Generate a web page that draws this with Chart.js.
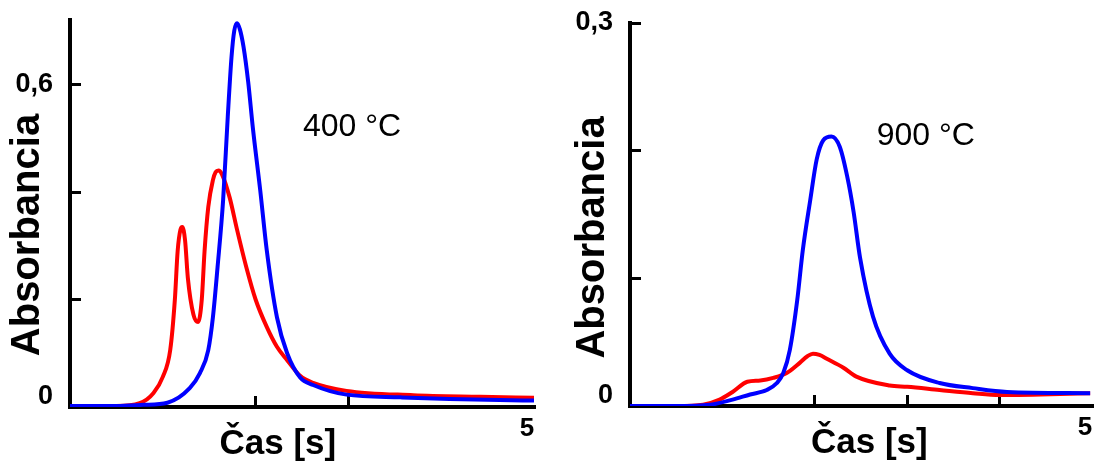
<!DOCTYPE html>
<html><head><meta charset="utf-8">
<script src="https://cdn.jsdelivr.net/npm/chart.js@4.4.1/dist/chart.umd.min.js"></script>
<style>
html,body{margin:0;padding:0;background:#fff;width:1101px;height:463px;overflow:hidden}
.box{position:absolute;top:0;height:463px}
canvas{display:block}
</style></head><body>
<div class="box" style="left:0;width:560px"><canvas id="c400" width="560" height="463" style="width:560px;height:463px"></canvas></div>
<div class="box" style="left:560px;width:541px"><canvas id="c900" width="541" height="463" style="width:541px;height:463px"></canvas></div>
<script>
// ---- 400 °C panel data ----
const blue400Time = [0, 0.5, 0.79, 1.05, 1.29, 1.40, 1.49, 1.54, 1.59, 1.65, 1.70, 1.74, 1.77, 1.80, 1.83, 1.87, 1.92, 1.97, 2.05, 2.12, 2.23, 2.34, 2.48, 2.62, 2.98, 3.56, 4.09, 4.63, 5.0];
const blue400Abs  = [0.002, 0.002, 0.004, 0.008, 0.035, 0.063, 0.106, 0.167, 0.26, 0.385, 0.54, 0.65, 0.70, 0.714, 0.703, 0.67, 0.605, 0.52, 0.403, 0.292, 0.167, 0.10, 0.055, 0.041, 0.023, 0.018, 0.015, 0.013, 0.012];
const red400Time  = [0, 0.5, 0.75, 0.90, 1.00, 1.08, 1.13, 1.16, 1.19, 1.21, 1.24, 1.27, 1.33, 1.38, 1.42, 1.45, 1.49, 1.54, 1.57, 1.60, 1.64, 1.72, 1.80, 1.90, 2.00, 2.12, 2.23, 2.34, 2.48, 2.62, 2.98, 3.70, 4.42, 5.0];
const red400Abs   = [0.002, 0.002, 0.007, 0.026, 0.056, 0.106, 0.20, 0.29, 0.33, 0.335, 0.31, 0.24, 0.172, 0.158, 0.20, 0.29, 0.372, 0.422, 0.437, 0.44, 0.432, 0.39, 0.33, 0.26, 0.20, 0.149, 0.112, 0.087, 0.058, 0.045, 0.030, 0.022, 0.019, 0.017];

// ---- 900 °C panel data ----
const blue900Time = [0, 0.5, 0.87, 1.11, 1.30, 1.48, 1.59, 1.66, 1.73, 1.81, 1.87, 1.95, 2.02, 2.09, 2.18, 2.27, 2.35, 2.42, 2.49, 2.63, 2.81, 3.00, 3.35, 3.71, 4.08, 4.98];
const blue900Abs  = [0.0, 0.0, 0.001, 0.005, 0.009, 0.0125, 0.018, 0.026, 0.044, 0.083, 0.122, 0.161, 0.193, 0.208, 0.211, 0.203, 0.18, 0.152, 0.116, 0.07, 0.041, 0.028, 0.018, 0.014, 0.011, 0.010];
const red900Time  = [0, 0.5, 0.79, 0.97, 1.11, 1.27, 1.41, 1.55, 1.70, 1.84, 1.92, 1.98, 2.05, 2.13, 2.31, 2.45, 2.81, 3.00, 3.35, 3.71, 4.00, 4.98];
const red900Abs   = [0.0, 0.0, 0.001, 0.005, 0.011, 0.019, 0.020, 0.022, 0.026, 0.034, 0.039, 0.041, 0.040, 0.037, 0.030, 0.023, 0.016, 0.015, 0.0125, 0.010, 0.0086, 0.010];

// ---- axes / ticks ----
const yTicks400 = [0, 0.2, 0.4, 0.6];
const yLabels400 = [0, 0.6];
const yTicks900 = [0, 0.1, 0.2, 0.3];
const yLabels900 = [0, 0.3];
const xTickMarks400 = [2, 3];
const xTickMarks900 = [2, 3, 4];
const xLabelValues = [5];

const FONT = "'Liberation Sans', Arial, sans-serif";

function pts(t, a) { return t.map((v, i) => ({x: v, y: a[i]})); }
function fmt(v) { return String(v).replace('.', ','); }
function noPad(s) { s.paddingTop = 0; s.paddingBottom = 0; s.paddingLeft = 0; s.paddingRight = 0; }

const textPlugin = {
  id: 'texts',
  afterDraw(chart, args, o) {
    const {ctx, scales: {x, y}} = chart;
    ctx.save();
    ctx.fillStyle = '#000';
    ctx.save();
    ctx.font = `bold 40px ${FONT}`;
    ctx.translate(o.yTitleX, y.getPixelForValue(o.yTitleAt));
    ctx.rotate(-Math.PI / 2);
    ctx.textAlign = 'center';
    ctx.textBaseline = 'middle';
    ctx.fillText('Absorbancia', 0, 0);
    ctx.restore();
    ctx.font = `bold 35px ${FONT}`;
    ctx.textAlign = 'center';
    ctx.textBaseline = 'middle';
    ctx.fillText('Čas [s]', x.getPixelForValue(o.xTitleAt), y.getPixelForValue(0) + o.xTitleDy);
    ctx.font = `32px ${FONT}`;
    ctx.textAlign = 'left';
    ctx.fillText(o.temp, x.getPixelForValue(o.tempX), y.getPixelForValue(o.tempY));
    ctx.restore();
  }
};

function makeChart(id, cfg) {
  return new Chart(document.getElementById(id), {
    type: 'line',
    data: {
      datasets: [
        {data: cfg.blue, borderColor: '#0000ff', borderWidth: 4, pointRadius: 0, cubicInterpolationMode: 'monotone', fill: false},
        {data: cfg.red, borderColor: '#ff0000', borderWidth: 4, pointRadius: 0, cubicInterpolationMode: 'monotone', fill: false}
      ]
    },
    options: {
      responsive: false,
      animation: false,
      devicePixelRatio: 1,
      layout: {padding: {left: 0, right: cfg.padRight, top: cfg.padTop, bottom: 0}},
      plugins: {legend: {display: false}, tooltip: {enabled: false}, texts: cfg.texts},
      scales: {
        x: {
          type: 'linear', min: 0, max: 5,
          afterBuildTicks: s => { s.ticks = cfg.xTicks.concat(xLabelValues).map(v => ({value: v})); },
          afterFit: s => { s.height = cfg.xHeight; noPad(s); },
          border: {display: true, color: '#000', width: 4},
          grid: {display: true, drawOnChartArea: false, drawTicks: true, tickLength: -11, color: '#000',
                 lineWidth: c => (c.tick && cfg.xTicks.includes(c.tick.value)) ? 3 : 0},
          ticks: {autoSkip: false, maxRotation: 0, padding: 17, labelOffset: -7, color: '#000',
                  font: {family: FONT, size: 26, weight: 'bold'},
                  callback: v => xLabelValues.includes(v) ? String(v) : ''}
        },
        y: {
          type: 'linear', min: 0, max: cfg.yMax,
          afterBuildTicks: s => { s.ticks = cfg.yTicks.map(v => ({value: v})); },
          afterFit: s => { s.width = 70; noPad(s); },
          border: {display: true, color: '#000', width: 4},
          grid: {display: true, drawOnChartArea: false, drawTicks: true, tickLength: -11, color: '#000', lineWidth: 3},
          ticks: {autoSkip: false, padding: 28, color: '#000',
                  font: c => ({family: FONT, size: 27, weight: 'bold', lineHeight: (c.tick && c.tick.value === 0) ? 0.75 : 1.2}),
                  callback: v => cfg.yLabels.includes(v) ? (v === 0 ? ['0', ''] : fmt(v)) : ''}
        }
      }
    },
    plugins: [textPlugin]
  });
}

makeChart('c400', {
  blue: pts(blue400Time, blue400Abs), red: pts(red400Time, red400Abs),
  yMax: 0.72, yTicks: yTicks400, yLabels: yLabels400, xTicks: xTickMarks400,
  padRight: 26, padTop: 20, xHeight: 56,
  texts: {yTitleX: 28, yTitleAt: 0.32, xTitleAt: 2.24, xTitleDy: 37, temp: '400 °C', tempX: 2.51, tempY: 0.521}
});
makeChart('c900', {
  blue: pts(blue900Time, blue900Abs), red: pts(red900Time, red900Abs),
  yMax: 0.3, yTicks: yTicks900, yLabels: yLabels900, xTicks: xTickMarks900,
  padRight: 9, padTop: 23, xHeight: 57,
  texts: {yTitleX: 33, yTitleAt: 0.132, xTitleAt: 2.59, xTitleDy: 37, temp: '900 °C', tempX: 2.67, tempY: 0.211}
});
</script>
</body></html>
